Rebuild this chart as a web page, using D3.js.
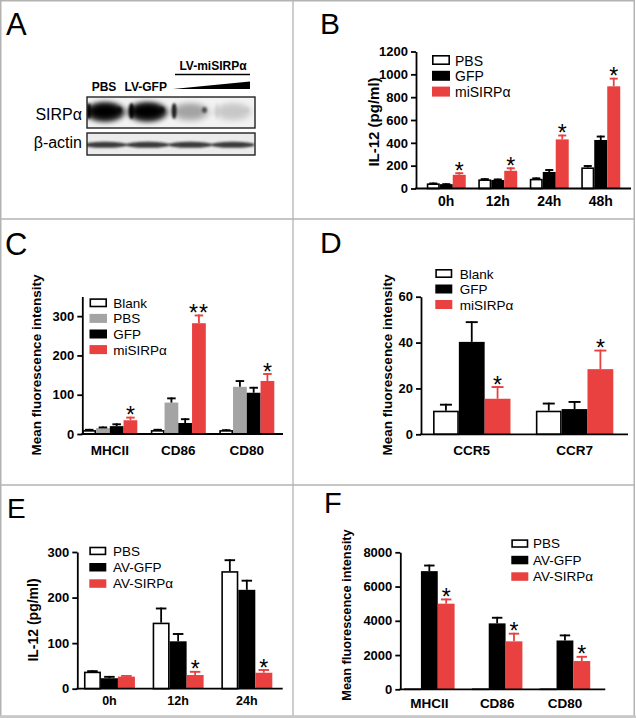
<!DOCTYPE html>
<html><head><meta charset="utf-8">
<script src="https://cdn.jsdelivr.net/npm/d3@7"></script>
<style>body{margin:0;background:#fff}svg{display:block}</style>
</head><body>
<svg id="fig" width="636" height="718"></svg>
<script>
// ---------- DATA ----------
const blotLanes = ["PBS", "LV-GFP", "LV-miSIRPα (low)", "LV-miSIRPα (high)"];
const sirpaSignal = [1.0, 1.0, 0.2, 0.1];
const sirpaEdge = [0.9, 0.95, 0.85, 0.05];
const actinSignal = [0.85, 0.85, 0.85, 0.85];

const bCategories = ["0h", "12h", "24h", "48h"];
const bPBS = [45, 80, 85, 185], bPBSErr = [7, 10, 12, 20];
const bGFP = [38, 75, 145, 425], bGFPErr = [8, 12, 25, 38];
const bMi  = [120, 155, 430, 895], bMiErr = [22, 30, 42, 75];
const bTicks = [0, 200, 400, 600, 800, 1000, 1200];
const bStars = ["*", "*", "*", "*"];

const cCategories = ["MHCII", "CD86", "CD80"];
const cBlank = [10, 10, 10], cBlankErr = [3, 3, 2];
const cPBS = [15, 80, 120], cPBSErr = [4, 13, 17];
const cGFP = [20, 28, 105], cGFPErr = [7, 12, 15];
const cMi = [35, 282, 135], cMiErr = [9, 22, 20];
const cTicks = [0, 100, 200, 300];
const cStars = ["*", "**", "*"];

const dCategories = ["CCR5", "CCR7"];
const dBlank = [10.3, 10.3], dBlankErr = [3, 3.5];
const dGFP = [40.3, 11], dGFPErr = [9, 3.5];
const dMi = [15.5, 28.4], dMiErr = [5.5, 8.5];
const dTicks = [0, 20, 40, 60];
const dStars = ["*", "*"];

const eCategories = ["0h", "12h", "24h"];
const ePBS = [37.5, 145, 258], ePBSErr = [3, 33, 26];
const eGFP = [23, 104, 217], eGFPErr = [5, 18, 22];
const eSIRP = [26.5, 30, 35], eSIRPErr = [3.5, 9, 8];
const eTicks = [0, 100, 200, 300];
const eStars = ["", "*", "*"];

const fCategories = ["MHCII", "CD86", "CD80"];
const fPBS = [50, 50, 50], fPBSErr = [0, 0, 0];
const fGFP = [6900, 3850, 2850], fGFPErr = [380, 380, 350];
const fSIRP = [5000, 2800, 1650], fSIRPErr = [300, 500, 300];
const fTicks = [0, 2000, 4000, 6000, 8000];
const fStars = ["*", "*", "*"];

// ---------- STYLE ----------
const FONT = "'Liberation Sans', Arial, Helvetica, sans-serif";
const RED = "#e8413f", GRAY = "#a4a4a4", BLACK = "#000", WHITE = "#fff";

const svg = d3.select("#fig").style("font-family", FONT);
svg.append("rect").attr("width", 636).attr("height", 718).attr("fill", "#fff");

// panel frames
const frame = svg.append("g").attr("stroke", "#b3b3b3").attr("fill", "none");
frame.append("rect").attr("x", 0.75).attr("y", 0.75).attr("width", 633.5).attr("height", 715.5).attr("stroke-width", 1.5);
frame.append("line").attr("x1", 293).attr("x2", 293).attr("y1", 0).attr("y2", 716).attr("stroke-width", 1.3);
frame.append("line").attr("x1", 0).attr("x2", 634).attr("y1", 219).attr("y2", 219).attr("stroke-width", 1.3);
frame.append("line").attr("x1", 0).attr("x2", 634).attr("y1", 485).attr("y2", 485).attr("stroke-width", 1.3);
svg.append("rect").attr("x", 0).attr("y", 715.5).attr("width", 636).attr("height", 2.5).attr("fill", "#c8c8c8");

// panel letters
const letters = [
  {t: "A", x: 6, y: 35, s: 31}, {t: "B", x: 320, y: 34, s: 30},
  {t: "C", x: 5, y: 255, s: 31}, {t: "D", x: 320, y: 253, s: 30},
  {t: "E", x: 7, y: 518, s: 28}, {t: "F", x: 324, y: 513, s: 29}
];
svg.selectAll("text.letter").data(letters).join("text").attr("class", "letter")
  .attr("x", d => d.x).attr("y", d => d.y).attr("font-size", d => d.s).text(d => d.t);

// ---------- PANEL A (western blot) ----------
(function () {
  const g = svg.append("g");
  const defs = svg.append("defs");
  defs.append("filter").attr("id", "blurBig").attr("x", "-50%").attr("y", "-50%").attr("width", "200%").attr("height", "200%")
    .append("feGaussianBlur").attr("stdDeviation", 2.4);
  defs.append("filter").attr("id", "blurSmall").attr("x", "-50%").attr("y", "-50%").attr("width", "200%").attr("height", "200%")
    .append("feGaussianBlur").attr("stdDeviation", 1.1);
  const boxes = [{id: "c1", y: 97, h: 31}, {id: "c2", y: 133, h: 22}];
  boxes.forEach(b => defs.append("clipPath").attr("id", b.id).append("rect").attr("x", 87).attr("y", b.y).attr("width", 168).attr("height", b.h));

  const lane = d3.scaleBand().domain(blotLanes).range([85, 253]).paddingInner(0.1).paddingOuter(0.02);
  const cx = d => lane(d) + lane.bandwidth() / 2;

  // SIRPa box
  const s1 = g.append("g").attr("clip-path", "url(#c1)");
  s1.append("rect").attr("x", 87).attr("y", 97).attr("width", 168).attr("height", 31).attr("fill", "#f2f2f2");
  s1.selectAll("ellipse.halo").data(blotLanes).join("ellipse").attr("class", "halo")
    .attr("cx", cx).attr("cy", 112)
    .attr("rx", lane.bandwidth() / 2 + 1).attr("ry", 10)
    .attr("fill", "#000").attr("opacity", (d, i) => 0.75 * sirpaSignal[i])
    .attr("filter", "url(#blurBig)");
  s1.selectAll("ellipse.core").data(blotLanes).join("ellipse").attr("class", "core")
    .attr("cx", cx).attr("cy", 111.5)
    .attr("rx", lane.bandwidth() / 2 - 4).attr("ry", 7)
    .attr("fill", "#000").attr("opacity", (d, i) => sirpaSignal[i])
    .attr("filter", "url(#blurBig)");
  s1.selectAll("ellipse.edgeL").data(blotLanes).join("ellipse").attr("class", "edgeL")
    .attr("cx", d => lane(d) + 3).attr("cy", 111)
    .attr("rx", 2.5).attr("ry", 8)
    .attr("fill", "#000").attr("opacity", (d, i) => sirpaEdge[i])
    .attr("filter", "url(#blurSmall)");
  s1.selectAll("ellipse.edgeR").data(blotLanes).join("ellipse").attr("class", "edgeR")
    .attr("cx", d => lane(d) + lane.bandwidth() - 5).attr("cy", 110)
    .attr("rx", 2.5).attr("ry", 3)
    .attr("fill", "#000").attr("opacity", (d, i) => sirpaEdge[i] * 0.7)
    .attr("filter", "url(#blurSmall)");
  g.append("rect").attr("x", 87).attr("y", 97).attr("width", 168).attr("height", 31)
    .attr("fill", "none").attr("stroke", "#222").attr("stroke-width", 1.4);

  // actin box
  const s2 = g.append("g").attr("clip-path", "url(#c2)");
  s2.append("rect").attr("x", 87).attr("y", 133).attr("width", 168).attr("height", 22).attr("fill", "#ebebeb");
  s2.selectAll("ellipse").data(blotLanes).join("ellipse")
    .attr("cx", cx).attr("cy", 144.8)
    .attr("rx", lane.bandwidth() / 2 + 3).attr("ry", 3)
    .attr("fill", "#1a1a1a").attr("opacity", (d, i) => actinSignal[i])
    .attr("filter", "url(#blurSmall)");
  g.append("rect").attr("x", 87).attr("y", 133).attr("width", 168).attr("height", 22)
    .attr("fill", "none").attr("stroke", "#222").attr("stroke-width", 1.4);

  // labels
  g.append("text").attr("x", 82).attr("y", 120).attr("text-anchor", "end").attr("font-size", 16).text("SIRPα");
  g.append("text").attr("x", 82).attr("y", 148).attr("text-anchor", "end").attr("font-size", 16).text("β-actin");
  g.append("text").attr("x", cx(blotLanes[0]) - 1).attr("y", 91).attr("text-anchor", "middle")
    .attr("font-size", 12).attr("font-weight", "bold").text("PBS");
  g.append("text").attr("x", cx(blotLanes[1]) - 2).attr("y", 91).attr("text-anchor", "middle")
    .attr("font-size", 12).attr("font-weight", "bold").text("LV-GFP");
  g.append("text").attr("x", 213).attr("y", 70).attr("text-anchor", "middle")
    .attr("font-size", 12).attr("font-weight", "bold").text("LV-miSIRPα");
  g.append("line").attr("x1", 175).attr("x2", 250).attr("y1", 74.5).attr("y2", 74.5).attr("stroke", "#000").attr("stroke-width", 1.3);
  g.append("path").attr("d", d3.line()([[173, 89], [250, 81.5], [250, 89]]) + "Z").attr("fill", "#000");
})();

// ---------- BAR PANELS ----------
function barPanel(p) {
  const g = svg.append("g");
  const y = d3.scaleLinear().domain(p.domain).range([p.y0, p.yTop]);
  const x = d3.scaleBand().domain(p.categories).range([p.axisX, p.xEnd])
    .paddingInner(p.pi).paddingOuter(p.po).align(p.align);
  const xs = d3.scaleBand().domain(p.series.map(s => s.name)).range([0, x.bandwidth()]);
  const bw = xs.bandwidth();

  // bars
  p.series.forEach(s => {
    p.categories.forEach((c, i) => {
      const v = s.values[i], e = s.errors[i];
      const bx = x(c) + xs(s.name);
      const top = y(v);
      if (s.outline) {
        g.append("rect").attr("x", bx + 0.8).attr("y", top + 0.8).attr("width", bw - 1.6)
          .attr("height", Math.max(0, p.y0 - top - 0.8))
          .attr("fill", s.fill).attr("stroke", "#000").attr("stroke-width", 1.6);
      } else {
        g.append("rect").attr("x", bx).attr("y", top).attr("width", bw).attr("height", p.y0 - top).attr("fill", s.fill);
      }
      if (e > 0) {
        const cx = bx + bw / 2, ye = y(v + e);
        const capW = Math.min(bw * 0.62, 12);
        g.append("line").attr("x1", cx).attr("x2", cx).attr("y1", top).attr("y2", ye)
          .attr("stroke", s.err).attr("stroke-width", 1.8);
        g.append("line").attr("x1", cx - capW / 2).attr("x2", cx + capW / 2).attr("y1", ye + 0.9).attr("y2", ye + 0.9)
          .attr("stroke", s.err).attr("stroke-width", 1.9);
      }
    });
  });

  // significance stars above the last series
  const ss = p.series[p.series.length - 1];
  g.selectAll("text.star").data(p.stars).join("text").attr("class", "star")
    .attr("x", (d, i) => x(p.categories[i]) + xs(ss.name) + bw / 2)
    .attr("y", (d, i) => y(ss.values[i] + ss.errors[i]) + 6.5)
    .attr("text-anchor", "middle").attr("font-size", 23).attr("letter-spacing", d => d.length > 1 ? 1 : 0)
    .text(d => d);

  // y axis
  const ay = g.append("g").attr("transform", `translate(${p.axisX},0)`)
    .call(d3.axisLeft(y).tickValues(p.ticks).tickSize(5).tickSizeOuter(0).tickPadding(3).tickFormat(d3.format("d")));
  ay.select(".domain").attr("stroke", "#000").attr("stroke-width", 1.8);
  ay.selectAll(".tick line").attr("stroke", "#000").attr("stroke-width", 1.8);
  ay.selectAll(".tick text").attr("font-family", FONT).attr("font-size", 13).attr("font-weight", "bold").attr("fill", "#000");

  // x axis line
  g.append("line").attr("x1", p.axisX - 0.9).attr("x2", p.xEnd).attr("y1", p.y0).attr("y2", p.y0)
    .attr("stroke", "#000").attr("stroke-width", 1.8);
  g.selectAll("text.xl").data(p.categories).join("text").attr("class", "xl")
    .attr("x", d => x(d) + x.bandwidth() / 2).attr("y", p.xlabelY)
    .attr("text-anchor", "middle").attr("font-size", p.xlabelSize).attr("font-weight", "bold").text(d => d);

  // y label
  g.append("text").attr("transform", `translate(${p.ylabel.x},${p.ylabel.y}) rotate(-90)`)
    .attr("text-anchor", "middle").attr("font-size", p.ylabel.size).attr("font-weight", "bold").text(p.ylabel.text);

  // legend
  const L = p.legend;
  const lg = g.selectAll("g.leg").data(p.series).join("g").attr("class", "leg")
    .attr("transform", (d, i) => `translate(${L.x},${L.y + i * L.dy})`);
  lg.append("rect").attr("x", d => d.outline ? 0.8 : 0).attr("y", d => d.outline ? 0.8 : 0)
    .attr("width", d => d.outline ? L.w - 1.6 : L.w).attr("height", d => d.outline ? L.h - 1.6 : L.h)
    .attr("fill", d => d.fill).attr("stroke", d => d.outline ? "#000" : "none").attr("stroke-width", 1.6);
  lg.append("text").attr("x", L.tx - L.x).attr("y", L.h + 0.5).attr("font-size", L.font).text(d => d.name);
}

// Panel B
barPanel({
  categories: bCategories, domain: [0, 1200], ticks: bTicks,
  axisX: 416, xEnd: 631, y0: 188.5, yTop: 51.5, pi: 0.243, po: 0.209, align: 0.5,
  series: [
    {name: "PBS", values: bPBS, errors: bPBSErr, fill: WHITE, outline: true, err: BLACK},
    {name: "GFP", values: bGFP, errors: bGFPErr, fill: BLACK, err: BLACK},
    {name: "miSIRPα", values: bMi, errors: bMiErr, fill: RED, err: RED}
  ],
  stars: bStars,
  legend: {x: 432, y: 55, dy: 15.8, w: 18, h: 10, tx: 455, font: 14},
  ylabel: {text: "IL-12 (pg/ml)", x: 379, y: 122, size: 15},
  xlabelY: 206, xlabelSize: 14
});

// Panel C
barPanel({
  categories: cCategories, domain: [0, 350], ticks: cTicks,
  axisX: 82.3, xEnd: 283, y0: 434, yTop: 296.5, pi: 0.197, po: 0.0635, align: 0,
  series: [
    {name: "Blank", values: cBlank, errors: cBlankErr, fill: WHITE, outline: true, err: BLACK},
    {name: "PBS", values: cPBS, errors: cPBSErr, fill: GRAY, err: BLACK},
    {name: "GFP", values: cGFP, errors: cGFPErr, fill: BLACK, err: BLACK},
    {name: "miSIRPα", values: cMi, errors: cMiErr, fill: RED, err: RED}
  ],
  stars: cStars,
  legend: {x: 89.5, y: 298.3, dy: 15.6, w: 17.5, h: 9, tx: 113.3, font: 13.5},
  ylabel: {text: "Mean fluorescence intensity", x: 41, y: 365, size: 13.5},
  xlabelY: 455, xlabelSize: 13.5
});

// Panel D
barPanel({
  categories: dCategories, domain: [0, 60], ticks: dTicks,
  axisX: 421, xEnd: 628, y0: 434.3, yTop: 296.7, pi: 0.247, po: 0.13, align: 0.45,
  series: [
    {name: "Blank", values: dBlank, errors: dBlankErr, fill: WHITE, outline: true, err: BLACK},
    {name: "GFP", values: dGFP, errors: dGFPErr, fill: BLACK, err: BLACK},
    {name: "miSIRPα", values: dMi, errors: dMiErr, fill: RED, err: RED}
  ],
  stars: dStars,
  legend: {x: 435.3, y: 269, dy: 15.5, w: 17, h: 9, tx: 459.7, font: 13.5},
  ylabel: {text: "Mean fluorescence intensity", x: 392, y: 365, size: 13.5},
  xlabelY: 455, xlabelSize: 13.5
});

// Panel E
barPanel({
  categories: eCategories, domain: [0, 300], ticks: eTicks,
  axisX: 77.3, xEnd: 282.7, y0: 688.7, yTop: 552, pi: 0.258, po: 0.124, align: 0.39,
  series: [
    {name: "PBS", values: ePBS, errors: ePBSErr, fill: WHITE, outline: true, err: BLACK},
    {name: "AV-GFP", values: eGFP, errors: eGFPErr, fill: BLACK, err: BLACK},
    {name: "AV-SIRPα", values: eSIRP, errors: eSIRPErr, fill: RED, err: RED}
  ],
  stars: eStars,
  legend: {x: 89.3, y: 546.7, dy: 16.3, w: 17, h: 8.5, tx: 113, font: 13.5},
  ylabel: {text: "IL-12 (pg/ml)", x: 38, y: 620, size: 14},
  xlabelY: 705, xlabelSize: 12.5
});

// Panel F
barPanel({
  categories: fCategories, domain: [0, 8000], ticks: fTicks,
  axisX: 400.3, xEnd: 605.3, y0: 689.3, yTop: 552.3, pi: 0.255, po: 0.139, align: 0.2,
  series: [
    {name: "PBS", values: fPBS, errors: fPBSErr, fill: WHITE, outline: true, err: BLACK},
    {name: "AV-GFP", values: fGFP, errors: fGFPErr, fill: BLACK, err: BLACK},
    {name: "AV-SIRPα", values: fSIRP, errors: fSIRPErr, fill: RED, err: RED}
  ],
  stars: fStars,
  legend: {x: 511.3, y: 539.3, dy: 16.5, w: 17, h: 8.5, tx: 533, font: 13.5},
  ylabel: {text: "Mean fluorescence intensity", x: 350.5, y: 615, size: 12.8},
  xlabelY: 708, xlabelSize: 13.5
});
</script>
</body></html>
